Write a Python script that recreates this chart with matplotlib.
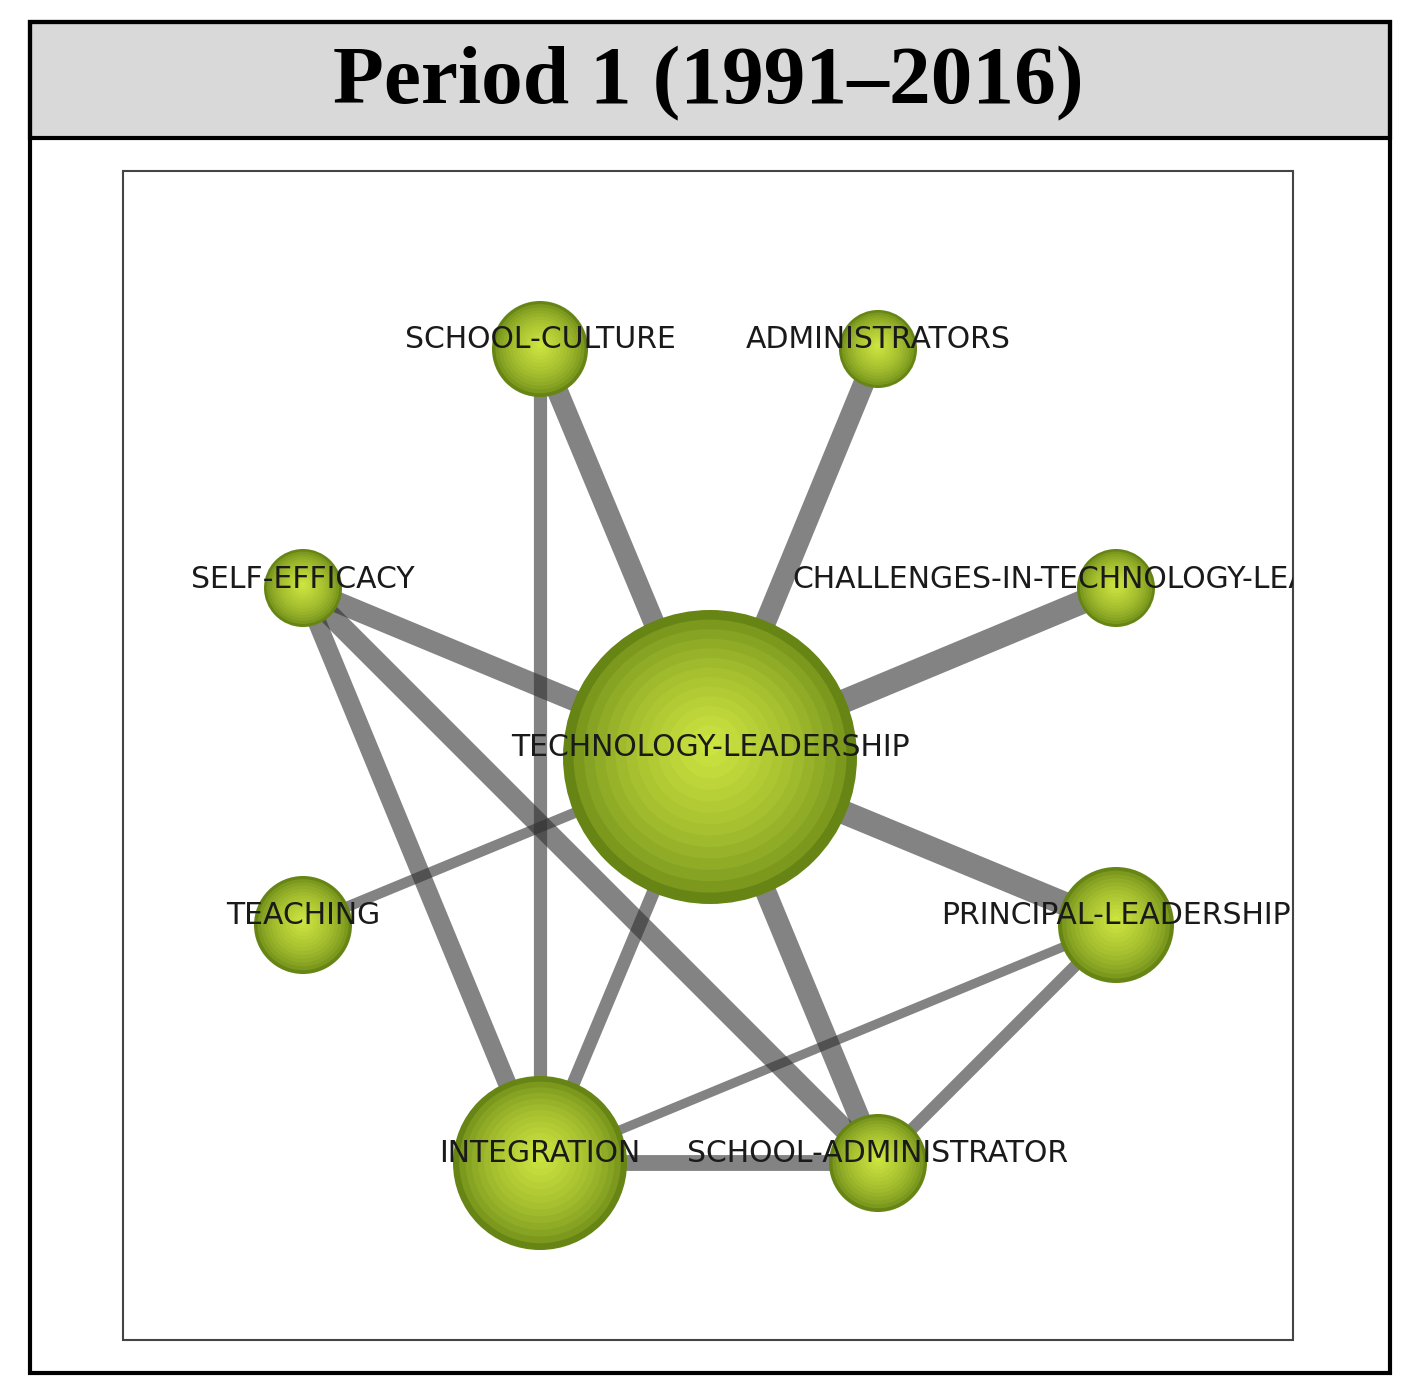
import matplotlib.pyplot as plt
from matplotlib.patches import Circle, Rectangle

# node data (layout positions in pixels of the original figure, size = radius)
nodes = ["TECHNOLOGY-LEADERSHIP", "SCHOOL-CULTURE", "ADMINISTRATORS", "SELF-EFFICACY",
         "CHALLENGES-IN-TECHNOLOGY-LEADERSHIP", "TEACHING", "PRINCIPAL-LEADERSHIP",
         "INTEGRATION", "SCHOOL-ADMINISTRATOR"]
node_x = [710, 540, 878, 303, 1116, 303, 1116, 540, 878]
node_y = [757, 349, 349, 588, 588, 925, 925, 1163, 1163]
node_r = [147, 48, 39, 39, 39, 49, 58, 87, 49]

edges = [(0, 1, 16), (0, 2, 16), (0, 3, 16), (0, 4, 18), (0, 6, 18), (0, 5, 8),
         (0, 7, 10), (0, 8, 16), (1, 7, 10), (3, 7, 14), (3, 8, 16), (6, 7, 7),
         (6, 8, 9), (7, 8, 12)]

W, H = 1415, 1398
fig = plt.figure(figsize=(W / 100, H / 100), dpi=100)
ax = fig.add_axes([0, 0, 1, 1])
ax.set_xlim(0, W)
ax.set_ylim(H, 0)
ax.axis("off")

# frame and title band
ax.add_patch(Rectangle((30, 22), 1360, 116, facecolor="#d9d9d9", edgecolor="black", lw=3))
ax.add_patch(Rectangle((30, 22), 1360, 1351, facecolor="none", edgecolor="black", lw=3))
ax.text(708, 84, "Period 1 (1991\u20132016)", ha="center", va="center",
        fontsize=60, fontweight="bold", family="Liberation Serif")
inner = Rectangle((123, 171), 1170, 1169, facecolor="white", edgecolor="#444444", lw=1.5)
ax.add_patch(inner)

for a, b, w in edges:
    ax.plot([node_x[a], node_x[b]], [node_y[a], node_y[b]], color="#303030",
            alpha=0.6, lw=w * 0.95, solid_capstyle="butt", zorder=2)

# shaded spheres
steps = 14
for x, y, r in zip(node_x, node_y, node_r):
    for i in range(steps):
        f = 1 - i / steps
        t = i / (steps - 1)
        c0 = (0.40, 0.52, 0.08)
        c1 = (0.80, 0.89, 0.25)
        col = tuple(c0[k] + (c1[k] - c0[k]) * t ** 0.6 for k in range(3))
        ax.add_patch(Circle((x, y - r * 0.08 * t), r * f, facecolor=col,
                            edgecolor="none", zorder=3))

for name, x, y in zip(nodes, node_x, node_y):
    t = ax.text(x, y - 9, name, ha="center", va="center", fontsize=21.5,
                family="DejaVu Sans", color="#1a1a1a", zorder=4)
    t.set_clip_path(inner)
    t.set_clip_on(True)

fig.savefig("out.png", dpi=100)
